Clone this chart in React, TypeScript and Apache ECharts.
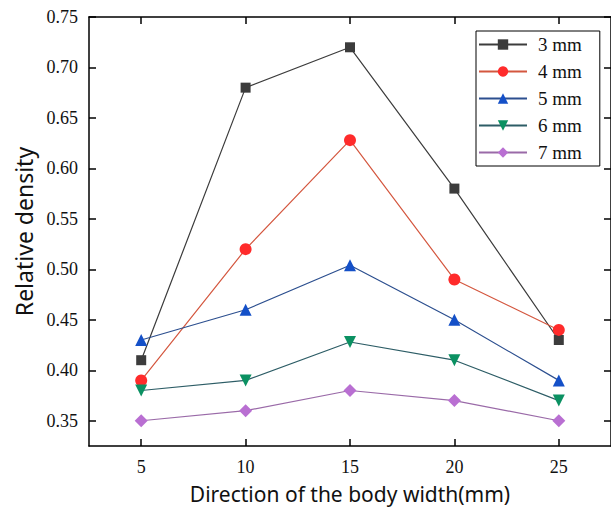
import React, { useEffect, useRef } from "react";
import * as echarts from "echarts";

const xValues = [5, 10, 15, 20, 25];
const yTicks = [0.35, 0.4, 0.45, 0.5, 0.55, 0.6, 0.65, 0.7, 0.75];
const seriesNames = ["3 mm", "4 mm", "5 mm", "6 mm", "7 mm"];
const s3 = [0.41, 0.68, 0.72, 0.58, 0.43];
const s4 = [0.39, 0.52, 0.628, 0.49, 0.44];
const s5 = [0.43, 0.46, 0.504, 0.45, 0.39];
const s6 = [0.38, 0.39, 0.428, 0.41, 0.37];
const s7 = [0.35, 0.36, 0.38, 0.37, 0.35];

const seriesData = [s3, s4, s5, s6, s7];
const symbolColors = ["#3c3c3c", "#ff2b2b", "#1450c8", "#0b9162", "#b96fd2"];
const lineColors = ["#3c3c3c", "#d4573f", "#2c4f8f", "#2d5d66", "#9a6aa8"];
const symbols = ["rect", "circle", "triangle", "path://M0,0 L10,0 L5,10 Z", "diamond"];
const symbolSizes = [10, 12, 12, 12, 13];

export default function App() {
  const ref = useRef<HTMLDivElement>(null);
  useEffect(() => {
    if (!ref.current) return;
    const chart = echarts.init(ref.current, null, { renderer: "svg" });
    const axisLine = { show: true, lineStyle: { color: "#000", width: 1.5 } };
    const serif = "'Liberation Serif', 'DejaVu Serif', serif";
    const sans = "'Noto Sans', 'Open Sans', sans-serif";
    chart.setOption({
      animation: false,
      backgroundColor: "#fff",
      grid: { left: 89, top: 17, right: 0, bottom: 63 },
      legend: {
        orient: "vertical",
        left: 476,
        top: 31,
        padding: [4, 18, 4, 2],
        borderColor: "#000",
        borderWidth: 1,
        itemWidth: 48,
        itemHeight: 13,
        itemGap: 8,
        textStyle: { fontFamily: serif, fontSize: 19, color: "#111", padding: [0, 0, 0, 6] },
        data: seriesNames,
      },
      xAxis: [
        {
          type: "value",
          min: 2.5,
          max: 27.5,
          axisLine,
          splitLine: { show: false },
          axisTick: { inside: true, length: 7, customValues: xValues, lineStyle: { color: "#000", width: 1.5 } },
          axisLabel: { customValues: xValues, fontFamily: serif, fontSize: 18, color: "#111", margin: 12 },
          name: "Direction of the body width(mm)",
          nameLocation: "middle",
          nameGap: 37,
          nameTextStyle: { fontFamily: sans, fontSize: 21, color: "#111" },
        },
        {
          type: "value",
          position: "top",
          min: 2.5,
          max: 27.5,
          axisLine,
          splitLine: { show: false },
          axisTick: { inside: true, length: 7, customValues: xValues, lineStyle: { color: "#000", width: 1.5 } },
          axisLabel: { show: false },
        },
      ],
      yAxis: [
        {
          type: "value",
          min: 0.325,
          max: 0.75,
          axisLine,
          splitLine: { show: false },
          axisTick: { inside: true, length: 7, customValues: yTicks, lineStyle: { color: "#000", width: 1.5 } },
          axisLabel: {
            customValues: yTicks,
            formatter: (v: number) => v.toFixed(2),
            fontFamily: serif,
            fontSize: 18,
            color: "#111",
            margin: 11,
          },
          name: "Relative density",
          nameLocation: "middle",
          nameGap: 54,
          nameTextStyle: { fontFamily: sans, fontSize: 23, color: "#111" },
        },
        {
          type: "value",
          position: "right",
          min: 0.325,
          max: 0.75,
          axisLine,
          splitLine: { show: false },
          axisTick: { inside: true, length: 7, customValues: yTicks, lineStyle: { color: "#000", width: 1.5 } },
          axisLabel: { show: false },
        },
      ],
      series: seriesNames.map((name, i) => ({
        name,
        type: "line",
        data: xValues.map((x, j) => [x, seriesData[i][j]]),
        symbol: symbols[i],
        symbolSize: symbolSizes[i],
        showAllSymbol: true,
        itemStyle: { color: symbolColors[i] },
        lineStyle: { color: lineColors[i], width: 1.2 },
        emphasis: { disabled: true },
      })),
    });
    return () => chart.dispose();
  }, []);
  return <div ref={ref} style={{ width: 611, height: 509, position: "absolute", left: 0, top: 0 }} />;
}
